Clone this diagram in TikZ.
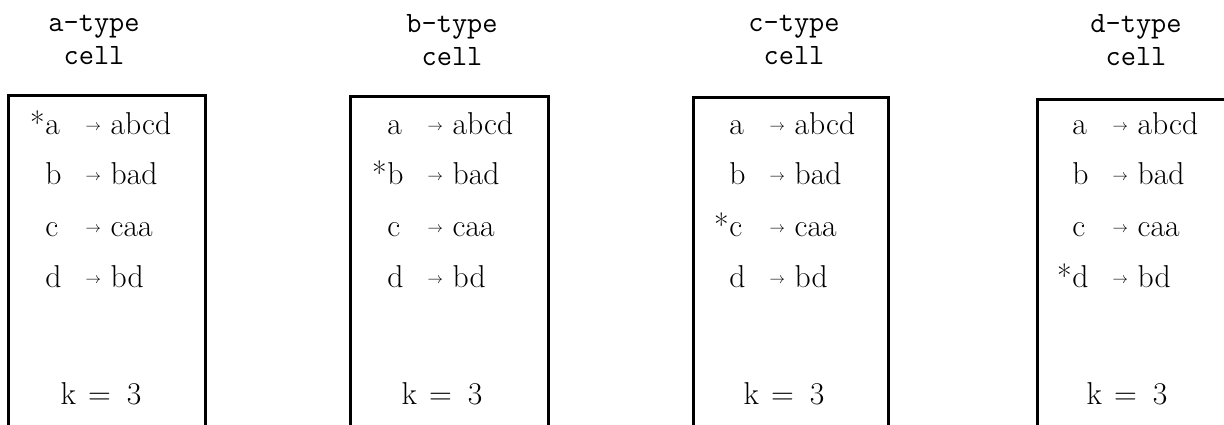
\documentclass[tikz,border=0pt]{standalone}
\usepackage{fontspec}
\usepackage{tikz}
\usetikzlibrary{positioning}
% one production of the grammar: left letter, short arrow, right word
\newcommand{\prodrule}[2]{\makebox[10.1mm][l]{#1}\raisebox{1.2mm}{$\scriptscriptstyle\rightarrow$}\hspace{2.4mm}#2}
\newcommand{\kval}{k\hspace{3mm}=\hspace{4mm}3}

\begin{document}
\begin{tikzpicture}[x=0.25mm,y=-0.25mm,
  font=\fontsize{22.5}{26}\selectfont,
  frame/.style={line width=0.75mm},
  ttl/.style={font=\fontsize{21}{23.5}\selectfont\ttfamily,align=center,inner sep=0},
  rl/.style={anchor=base west,inner sep=0},
  starmk/.style={anchor=base east,inner sep=0},
  kv/.style={anchor=base,inner sep=0},
]
\useasboundingbox (0,0) rectangle (1224,425);
\clip (0,0) rectangle (1224,425);
% --- a-type cell ---
\begin{scope}[shift={(8,96)}]
  \draw[frame] (0,335) |- (197,0) -- (197,335);
  \node[ttl] (ta) at (86,-56) {a-type\\cell};
  \node[rl] (a1) at (37,39) {\prodrule{a}{abcd}};
  \node[rl] (a2) at (37,89) {\prodrule{b}{bad}};
  \node[rl] (a3) at (37,141) {\prodrule{c}{caa}};
  \node[rl] (a4) at (37,192) {\prodrule{d}{bd}};
  \node[starmk] (sa) at (a1.base west) {*};
  \node[kv] (ka) at (93,309) {\kval};
\end{scope}
% --- b-type cell ---
\begin{scope}[shift={(350,97)}]
  \draw[frame] (0,335) |- (198,0) -- (198,335);
  \node[ttl] (tb) at (102,-57) {b-type\\cell};
  \node[rl] (b1) at (37,38) {\prodrule{a}{abcd}};
  \node[rl] (b2) at (37,88) {\prodrule{b}{bad}};
  \node[rl] (b3) at (37,140) {\prodrule{c}{caa}};
  \node[rl] (b4) at (37,191) {\prodrule{d}{bd}};
  \node[starmk] (sb) at (b2.base west) {*};
  \node[kv] (kb) at (92,308) {\kval};
\end{scope}
% --- c-type cell ---
\begin{scope}[shift={(693,98)}]
  \draw[frame] (0,335) |- (195,0) -- (195,335);
  \node[ttl] (tc) at (101,-58) {c-type\\cell};
  \node[rl] (c1) at (36,37) {\prodrule{a}{abcd}};
  \node[rl] (c2) at (36,87) {\prodrule{b}{bad}};
  \node[rl] (c3) at (36,139) {\prodrule{c}{caa}};
  \node[rl] (c4) at (36,190) {\prodrule{d}{bd}};
  \node[starmk] (sc) at (c3.base west) {*};
  \node[kv] (kc) at (91,307) {\kval};
\end{scope}
% --- d-type cell, cut by the right edge ---
\begin{scope}[shift={(1037,100)}]
  \draw[frame] (0,335) |- (197,0) -- (197,335);
  \node[ttl] (td) at (99,-60) {d-type\\cell};
  \node[rl] (d1) at (35,35) {\prodrule{a}{abcd}};
  \node[rl] (d2) at (35,85) {\prodrule{b}{bad}};
  \node[rl] (d3) at (35,137) {\prodrule{c}{caa}};
  \node[rl] (d4) at (35,188) {\prodrule{d}{bd}};
  \node[starmk] (sd) at (d4.base west) {*};
  \node[kv] (kd) at (90,305) {\kval};
\end{scope}
\end{tikzpicture}
\end{document}
